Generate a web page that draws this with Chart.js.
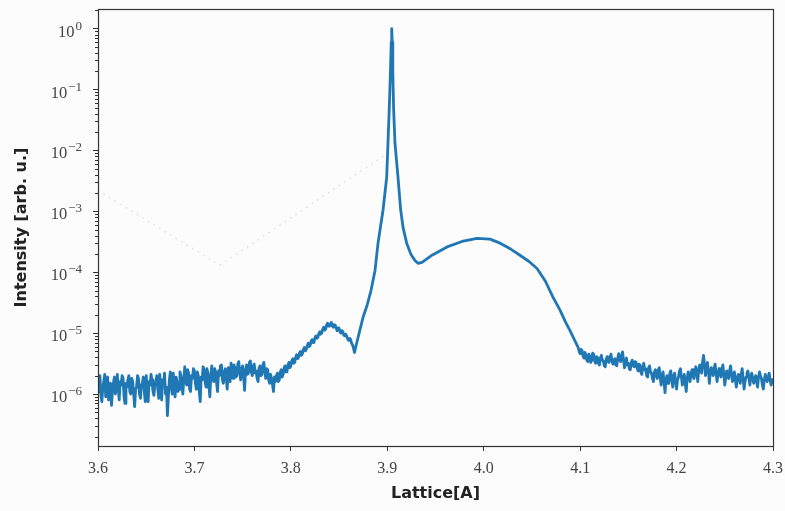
<!DOCTYPE html>
<html><head><meta charset="utf-8">
<script src="https://cdn.jsdelivr.net/npm/chart.js@4.4.1/dist/chart.umd.min.js"></script>
<style>html,body{margin:0;padding:0;background:#fcfcfc;} canvas{display:block;}</style>
</head><body>
<canvas id="c" width="785" height="511"></canvas>
<script>
// ---- data ----
const leftStart = 3.600, leftStep = 0.001;
const leftIntensity = [
  1.1e-6, 1.7e-6, 2.0e-6, 1.0e-6, 7.5e-7, 1.3e-6, 1.6e-6, 2.1e-6, 9e-7, 1.4e-6, 1.9e-6, 8e-7, 1.2e-6, 1.5e-6, 6.5e-7, 1.1e-6, 1.5e-6, 1.9e-6, 1.0e-6, 1.3e-6,
  2.1e-6, 1.2e-6, 8e-7, 1.6e-6, 1.4e-6, 2.0e-6, 1.8e-6, 9e-7, 7e-7, 1.5e-6, 1.3e-6, 1.7e-6, 2.0e-6, 1.1e-6, 1.0e-6, 1.8e-6, 1.6e-6, 1.0e-6, 6.2e-7, 1.2e-6,
  1.3e-6, 2.0e-6, 1.8e-6, 1.0e-6, 8.5e-7, 1.4e-6, 1.5e-6, 1.9e-6, 1.1e-6, 7.5e-7, 2.0e-6, 1.3e-6, 7.5e-7, 1.6e-6, 1.4e-6, 2.1e-6, 1.7e-6, 1.1e-6, 9.5e-7, 1.5e-6,
  1.6e-6, 2.0e-6, 1.2e-6, 8.5e-7, 2.1e-6, 1.4e-6, 8e-7, 1.7e-6, 1.5e-6, 2.2e-6, 1.0e-6, 1.3e-6, 4.4e-7, 9e-7, 1.7e-6, 2.3e-6, 1.3e-6, 1.0e-6, 2.2e-6, 1.5e-6,
  9e-7, 1.9e-6, 1.6e-6, 1.1e-6, 1.2e-6, 2.3e-6, 2.0e-6, 1.3e-6, 1.0e-6, 1.8e-6, 2.8e-6, 1.6e-6, 1.4e-6, 2.5e-6, 2.2e-6, 1.2e-6, 1.1e-6, 2.0e-6, 1.8e-6, 2.6e-6,
  2.4e-6, 1.5e-6, 1.2e-6, 2.3e-6, 2.0e-6, 1.1e-6, 7.5e-7, 1.9e-6, 1.7e-6, 2.8e-6, 2.5e-6, 1.6e-6, 1.3e-6, 2.6e-6, 2.2e-6, 1.4e-6, 9e-7, 2.0e-6, 2.9e-6, 1.8e-6,
  1.6e-6, 2.6e-6, 2.3e-6, 1.5e-6, 1.1e-6, 2.4e-6, 2.0e-6, 2.9e-6, 3.0e-6, 1.7e-6, 1.5e-6, 2.3e-6, 2.6e-6, 1.8e-6, 1.2e-6, 2.7e-6, 2.2e-6, 1.6e-6, 3.2e-6, 2.1e-6,
  1.8e-6, 3.0e-6, 2.7e-6, 1.9e-6, 2.0e-6, 3.1e-6, 3.4e-6, 2.2e-6, 1.7e-6, 2.6e-6, 2.9e-6, 2.0e-6, 1.15e-6, 2.4e-6, 3.0e-6, 2.1e-6, 2.2e-6, 3.3e-6, 3.5e-6, 2.3e-6,
  2.0e-6, 2.9e-6, 3.1e-6, 2.2e-6, 2.4e-6, 1.8e-6, 1.6e-6, 2.7e-6, 2.9e-6, 2.0e-6, 2.1e-6, 3.0e-6, 3.3e-6, 2.3e-6, 1.8e-6, 2.6e-6, 2.5e-6, 1.7e-6, 1.5e-6, 2.1e-6,
  1.8e-6, 1.4e-6, 1.1e-6, 1.9e-6, 1.6e-6, 2.0e-6, 2.2e-6, 1.6e-6, 1.7e-6, 2.3e-6, 2.5e-6, 1.9e-6, 2.1e-6, 2.7e-6, 2.9e-6, 2.3e-6, 2.4e-6, 3.0e-6, 3.3e-6, 2.7e-6,
  2.9e-6, 3.5e-6, 3.8e-6, 3.2e-6, 3.3e-6, 4.0e-6, 4.4e-6, 3.8e-6, 4.0e-6, 4.7e-6, 5.0e-6, 4.3e-6, 4.6e-6, 5.4e-6, 5.8e-6, 5.1e-6, 5.4e-6, 6.2e-6, 6.8e-6, 6.0e-6,
  6.3e-6, 7.4e-6, 7.8e-6, 7.0e-6, 7.2e-6, 8.4e-6, 9.0e-6, 8.2e-6, 8.5e-6, 9.8e-6, 1.05e-5, 9.6e-6, 1.0e-5, 1.15e-5, 1.25e-5, 1.12e-5, 1.15e-5, 1.35e-5, 1.45e-5, 1.3e-5,
  1.3e-5, 1.42e-5, 1.5e-5, 1.3e-5, 1.25e-5, 1.38e-5, 1.35e-5, 1.2e-5, 1.1e-5, 1.22e-5, 1.2e-5, 1.05e-5, 1.0e-5, 1.1e-5, 1.05e-5, 9.2e-6, 9.0e-6, 9.6e-6, 8.8e-6, 8.0e-6,
  7.6e-6, 8.2e-6, 7.8e-6, 6.8e-6, 6.4e-6, 5.6e-6
];
const peakLattice = [
  3.866, 3.8696, 3.8748, 3.8790, 3.8831, 3.8873, 3.8904, 3.8956, 3.8994, 3.9007,
  3.9020, 3.9033, 3.9041, 3.9046, 3.9051, 3.9057, 3.9066, 3.9080, 3.9111, 3.9139,
  3.9163, 3.9201, 3.9246, 3.9287, 3.9318, 3.9360, 3.9464, 3.9620, 3.9775, 3.9930,
  4.0065, 4.0170, 4.0280, 4.0376, 4.0470, 4.0553, 4.0640, 4.0718, 4.0790, 4.0850,
  4.0895, 4.0940
];
const peakIntensity = [
  4.8e-6, 8.4e-6, 1.8e-5, 2.84e-5, 5.0e-5, 1.07e-4, 3.0e-4, 1.05e-3, 3.65e-3, 1.3e-2,
  4.6e-2, 0.2, 0.6, 1.0, 0.6, 0.2, 4.6e-2, 1.3e-2, 3.65e-3, 1.05e-3,
  5.5e-4, 3.0e-4, 1.96e-4, 1.56e-4, 1.4e-4, 1.45e-4, 1.9e-4, 2.6e-4, 3.2e-4, 3.6e-4,
  3.5e-4, 3.0e-4, 2.4e-4, 1.9e-4, 1.5e-4, 1.15e-4, 7.1e-5, 3.9e-5, 2.4e-5, 1.5e-5,
  1.1e-5, 7.8e-6
];
const rightStart = 4.098, rightStep = 0.001;
const rightIntensity = [
  5.8e-6, 5.0e-6, 4.6e-6, 5.4e-6, 5.2e-6, 4.2e-6, 3.9e-6, 4.8e-6, 4.4e-6, 3.6e-6, 3.4e-6, 4.5e-6, 4.2e-6, 3.3e-6, 3.6e-6, 4.7e-6, 4.5e-6, 3.5e-6, 3.2e-6, 4.1e-6,
  4.0e-6, 3.2e-6, 3.0e-6, 3.9e-6, 4.3e-6, 3.6e-6, 3.5e-6, 2.9e-6, 2.8e-6, 3.7e-6, 4.1e-6, 3.4e-6, 3.3e-6, 4.2e-6, 4.5e-6, 3.5e-6, 3.1e-6, 3.6e-6, 3.8e-6, 3.0e-6,
  2.9e-6, 3.9e-6, 4.6e-6, 3.7e-6, 3.4e-6, 4.3e-6, 4.9e-6, 3.6e-6, 2.7e-6, 3.3e-6, 3.9e-6, 3.0e-6, 3.2e-6, 2.6e-6, 2.5e-6, 3.3e-6, 3.6e-6, 2.9e-6, 2.8e-6, 3.4e-6,
  3.3e-6, 2.7e-6, 2.4e-6, 3.1e-6, 3.0e-6, 2.3e-6, 2.1e-6, 2.8e-6, 3.2e-6, 2.5e-6, 2.6e-6, 2.0e-6, 1.9e-6, 2.7e-6, 2.9e-6, 2.3e-6, 2.2e-6, 1.8e-6, 1.6e-6, 2.3e-6,
  2.5e-6, 2.0e-6, 1.8e-6, 2.5e-6, 2.7e-6, 1.9e-6, 1.4e-6, 2.0e-6, 2.3e-6, 1.6e-6, 1.05e-6, 1.7e-6, 2.0e-6, 1.5e-6, 1.5e-6, 2.2e-6, 2.4e-6, 1.8e-6, 1.3e-6, 1.9e-6,
  2.2e-6, 1.6e-6, 1.2e-6, 1.7e-6, 1.9e-6, 2.4e-6, 2.6e-6, 1.9e-6, 1.4e-6, 1.8e-6, 2.1e-6, 1.5e-6, 1.1e-6, 1.8e-6, 2.3e-6, 2.0e-6, 1.6e-6, 2.2e-6, 2.5e-6, 2.0e-6,
  1.8e-6, 2.4e-6, 2.8e-6, 2.1e-6, 1.6e-6, 2.5e-6, 3.0e-6, 2.5e-6, 2.2e-6, 3.4e-6, 4.3e-6, 3.0e-6, 2.0e-6, 2.7e-6, 3.3e-6, 2.4e-6, 1.5e-6, 2.2e-6, 2.7e-6, 2.3e-6,
  2.0e-6, 2.7e-6, 3.1e-6, 2.2e-6, 1.6e-6, 2.1e-6, 2.6e-6, 2.3e-6, 1.9e-6, 2.5e-6, 3.0e-6, 2.1e-6, 1.4e-6, 1.9e-6, 2.4e-6, 2.0e-6, 1.8e-6, 2.4e-6, 2.9e-6, 2.1e-6,
  1.6e-6, 2.0e-6, 2.3e-6, 1.7e-6, 1.3e-6, 1.8e-6, 2.1e-6, 1.8e-6, 1.5e-6, 2.1e-6, 2.6e-6, 1.8e-6, 1.2e-6, 1.6e-6, 1.9e-6, 2.2e-6, 2.4e-6, 1.9e-6, 1.4e-6, 1.9e-6,
  2.2e-6, 1.8e-6, 1.5e-6, 1.8e-6, 2.0e-6, 1.6e-6, 1.3e-6, 1.9e-6, 2.3e-6, 2.0e-6, 1.8e-6, 1.4e-6, 1.2e-6, 1.7e-6, 2.1e-6, 1.8e-6, 1.6e-6, 1.9e-6, 2.2e-6, 1.7e-6,
  1.4e-6, 1.6e-6, 1.8e-6
];
const ghostLattice = [3.6, 3.7265, 3.8977];
const ghostIntensity = [2.2e-3, 1.3e-4, 8.4e-3];
const xTickValues = [3.6, 3.7, 3.8, 3.9, 4.0, 4.1, 4.2, 4.3];
const yTickValues = [1e-6, 1e-5, 1e-4, 1e-3, 1e-2, 1e-1, 1];
const yMin = 1.4e-7, yMax = 2.1;

// ---- build points ----
const mainPoints = [];
leftIntensity.forEach((v, i) => mainPoints.push({x: +(leftStart + i * leftStep).toFixed(4), y: v}));
peakIntensity.forEach((v, i) => mainPoints.push({x: peakLattice[i], y: v}));
rightIntensity.forEach((v, i) => mainPoints.push({x: +(rightStart + i * rightStep).toFixed(4), y: v}));
const ghostPoints = ghostIntensity.map((v, i) => ({x: ghostLattice[i], y: v}));

const decor = {
  id: 'decor',
  afterDraw(chart) {
    const {ctx, chartArea: a, scales} = chart;
    const ys = scales.y;
    ctx.save();
    // minor log ticks
    ctx.strokeStyle = '#333';
    ctx.lineWidth = 1;
    ctx.beginPath();
    for (let k = -8; k <= 1; k++) {
      for (let m = 2; m <= 9; m++) {
        const v = m * Math.pow(10, k);
        if (v < yMin || v > yMax) continue;
        const py = Math.round(ys.getPixelForValue(v)) + 0.5;
        ctx.moveTo(a.left - 3, py);
        ctx.lineTo(a.left, py);
      }
    }
    ctx.stroke();
    // frame
    ctx.lineWidth = 1.2;
    ctx.strokeRect(Math.round(a.left) + 0.5, Math.round(a.top) + 0.5, Math.round(a.right - a.left), Math.round(a.bottom - a.top));
    // y tick labels 10^n
    ctx.fillStyle = '#444';
    ctx.textAlign = 'right';
    ctx.textBaseline = 'alphabetic';
    const rightX = a.left - 16;
    yTickValues.forEach(v => {
      const py = ys.getPixelForValue(v);
      const e = Math.round(Math.log10(v));
      const expText = e < 0 ? '\u2212' + Math.abs(e) : String(e);
      ctx.font = '13px "Liberation Serif", "DejaVu Serif", serif';
      const ew = ctx.measureText(expText).width;
      ctx.fillText(expText, rightX, py + 1);
      ctx.font = '16.5px "Liberation Serif", "DejaVu Serif", serif';
      ctx.fillText('10', rightX - ew - 1, py + 8);
    });
    ctx.restore();
  }
};

new Chart(document.getElementById('c'), {
  type: 'line',
  data: {
    datasets: [
      {
        data: ghostPoints,
        borderColor: 'rgba(190,200,215,0.55)',
        borderWidth: 1.5,
        borderDash: [1.5, 5],
        pointRadius: 0,
        tension: 0
      },
      {
        data: mainPoints,
        borderColor: '#1f77b4',
        borderWidth: 2.8,
        pointRadius: 0,
        tension: 0,
        borderJoinStyle: 'round'
      }
    ]
  },
  plugins: [decor],
  options: {
    responsive: false,
    animation: false,
    layout: {padding: {top: 9, right: 12, left: 0, bottom: 0}},
    plugins: {legend: {display: false}, tooltip: {enabled: false}},
    scales: {
      x: {
        type: 'linear',
        min: 3.6, max: 4.3,
        afterBuildTicks(scale) { scale.ticks = xTickValues.map(v => ({value: v})); },
        afterFit(scale) { scale.height = 65; scale.paddingRight = 0; scale.paddingLeft = 0; },
        border: {display: false},
        grid: {drawOnChartArea: false, drawTicks: true, tickLength: 5, color: '#333'},
        ticks: {
          autoSkip: false, maxRotation: 0, padding: 8, color: '#444',
          font: {family: '"Liberation Serif", "DejaVu Serif", serif', size: 16},
          callback: v => Number(v).toFixed(1)
        },
        title: {
          display: true, text: 'Lattice[A]', color: '#222',
          font: {family: '"DejaVu Sans", sans-serif', size: 16, weight: 'bold'},
          padding: {top: 0, bottom: 8}
        }
      },
      y: {
        type: 'logarithmic',
        min: yMin, max: yMax,
        afterBuildTicks(scale) { scale.ticks = yTickValues.map(v => ({value: v, major: true})); },
        afterFit(scale) { scale.width = 98; },
        border: {display: false},
        grid: {drawOnChartArea: false, drawTicks: true, tickLength: 5, color: '#333'},
        ticks: {
          autoSkip: false, padding: 8, color: 'rgba(0,0,0,0)',
          font: {size: 1},
          callback: () => ''
        },
        title: {
          display: true, text: 'Intensity [arb. u.]', color: '#222',
          font: {family: '"DejaVu Sans", sans-serif', size: 16, weight: 'bold'},
          padding: {top: 12, bottom: 0}
        }
      }
    }
  }
});
</script>
</body></html>
